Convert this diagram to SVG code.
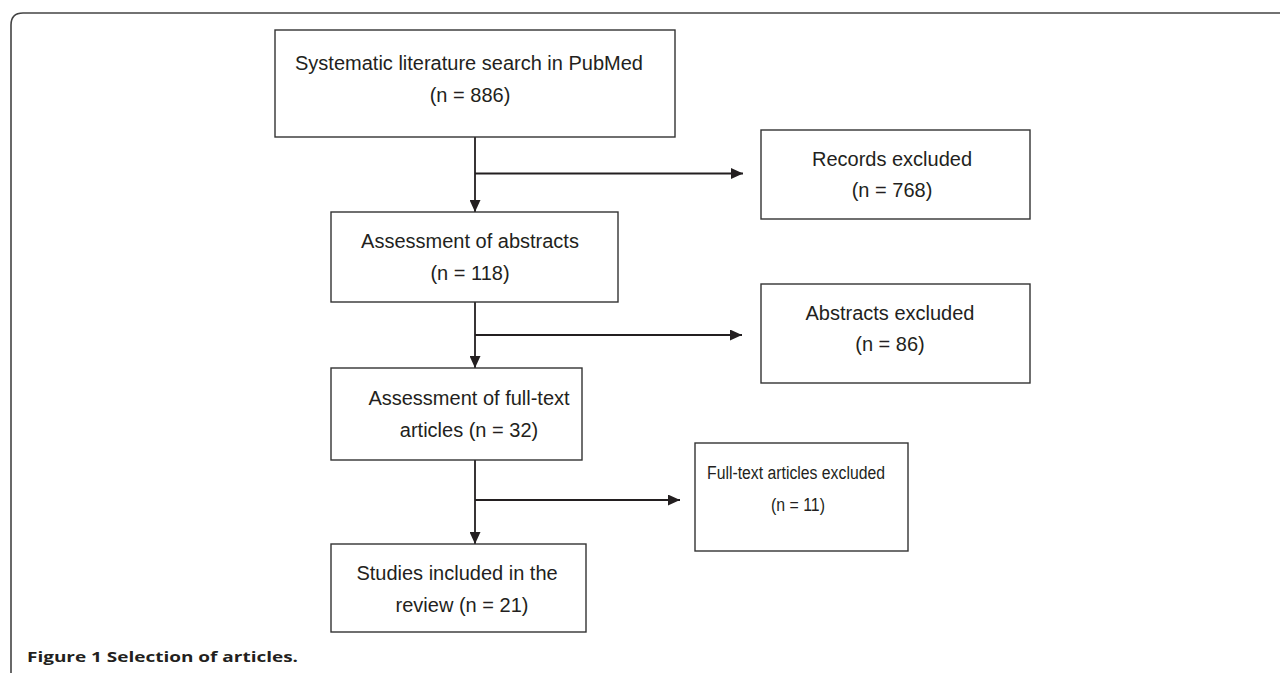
<svg xmlns="http://www.w3.org/2000/svg" width="1280" height="673" viewBox="0 0 1280 673">
<style>
.box{fill:#fff;stroke:#333;stroke-width:1.4}
.t{font-family:"Liberation Sans",Arial,Helvetica,sans-serif;font-size:20px;fill:#231f20;text-anchor:middle}
.c{stroke:#231f20;stroke-width:1.8;fill:none}
.cap{font-family:"Open Sans","Liberation Sans",sans-serif;font-weight:bold;font-size:14.5px;fill:#231f20}
</style>
<defs>
<marker id="ah" markerUnits="userSpaceOnUse" markerWidth="12" markerHeight="11" refX="12" refY="5.5" orient="auto">
<path d="M0,0 L12,5.5 L0,11 z" fill="#231f20"/>
</marker>
</defs>
<rect width="1280" height="673" fill="#fff"/>
<path d="M11 673 V25 Q11 13 23 13 H1280" fill="none" stroke="#444" stroke-width="1.6"/>
<g id="connectors">
<line class="c" x1="475" y1="137" x2="475" y2="212" marker-end="url(#ah)"/>
<line class="c" x1="475" y1="173.5" x2="743" y2="173.5" marker-end="url(#ah)"/>
<line class="c" x1="475" y1="302" x2="475" y2="368" marker-end="url(#ah)"/>
<line class="c" x1="475" y1="335" x2="742" y2="335" marker-end="url(#ah)"/>
<line class="c" x1="475" y1="460" x2="475" y2="544" marker-end="url(#ah)"/>
<line class="c" x1="475" y1="500" x2="680" y2="500" marker-end="url(#ah)"/>
</g>
<g id="search">
<rect class="box" x="275" y="30" width="400" height="107"/>
<text class="t" x="469" y="70">Systematic literature search in PubMed</text>
<text class="t" x="470" y="102">(n = 886)</text>
</g>
<g id="records-excluded">
<rect class="box" x="761" y="130" width="269" height="89"/>
<text class="t" x="892" y="166">Records excluded</text>
<text class="t" x="892" y="197">(n = 768)</text>
</g>
<g id="abstracts">
<rect class="box" x="331" y="212" width="287" height="90"/>
<text class="t" x="470" y="248">Assessment of abstracts</text>
<text class="t" x="470" y="280">(n = 118)</text>
</g>
<g id="abstracts-excluded">
<rect class="box" x="761" y="284" width="269" height="99"/>
<text class="t" x="890" y="320">Abstracts excluded</text>
<text class="t" x="890" y="351">(n = 86)</text>
</g>
<g id="fulltext">
<rect class="box" x="331" y="368" width="251" height="92"/>
<text class="t" x="469" y="405">Assessment of full-text</text>
<text class="t" x="469" y="437">articles (n = 32)</text>
</g>
<g id="fulltext-excluded">
<rect class="box" x="695" y="443" width="213" height="108"/>
<text class="t" x="796" y="479" style="font-size:18px" textLength="178" lengthAdjust="spacingAndGlyphs">Full-text articles excluded</text>
<text class="t" x="798" y="511" style="font-size:18px" textLength="54" lengthAdjust="spacingAndGlyphs">(n = 11)</text>
</g>
<g id="included">
<rect class="box" x="331" y="544" width="255" height="88"/>
<text class="t" x="457" y="580">Studies included in the</text>
<text class="t" x="462" y="612">review (n = 21)</text>
</g>
<text class="cap" x="27" y="662" textLength="271" lengthAdjust="spacingAndGlyphs">Figure 1 Selection of articles.</text>
</svg>
